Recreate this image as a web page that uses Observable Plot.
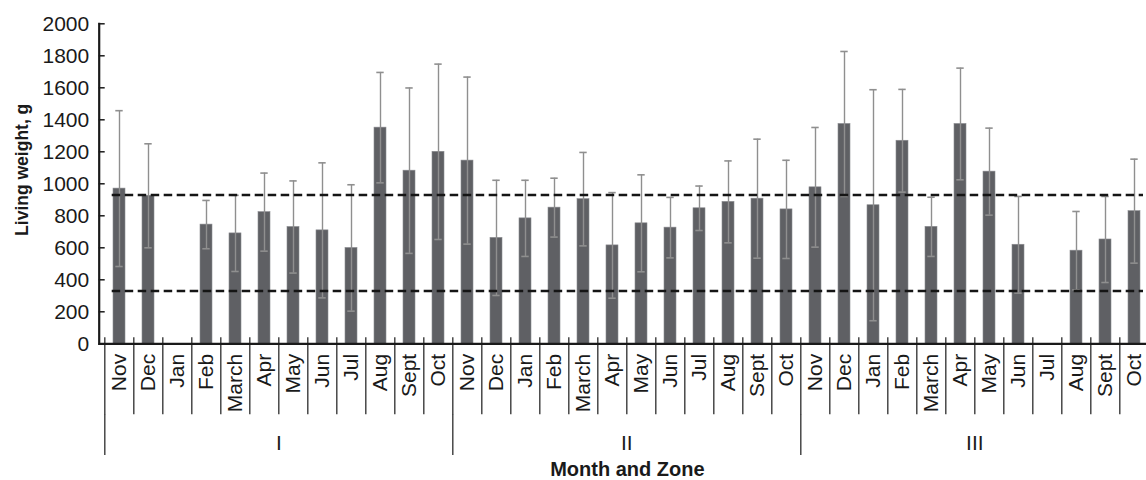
<!DOCTYPE html>
<html><head><meta charset="utf-8">
<script src="https://cdn.jsdelivr.net/npm/d3@7"></script>
<script src="https://cdn.jsdelivr.net/npm/@observablehq/plot@0.6"></script>
<style>
body{margin:0;background:#fff;}
#chart svg{display:block;}
</style></head><body><div id="chart"></div>
<script>
// ---- data ----
const zones = ["I", "II", "III"];
const months = ["Nov","Dec","Jan","Feb","March","Apr","May","Jun","Jul","Aug","Sept","Oct"];
const meanI   = [970, 925, null, 745, 690, 823, 730, 709, 599, 1351, 1082, 1200];
const sdI     = [487, 325, null, 151, 238, 244, 288, 422, 395, 345, 517, 548];
const meanII  = [1145, 662, 784, 851, 904, 615, 753, 726, 847, 887, 907, 840];
const sdII    = [522, 360, 238, 184, 292, 330, 303, 189, 139, 256, 372, 307];
const meanIII = [978, 1374, 866, 1269, 731, 1374, 1076, 619, null, 582, 652, 829];
const sdIII   = [374, 453, 722, 321, 185, 349, 272, 302, null, 245, 269, 325];
const refLines = [930, 330];
const yTicks = [0, 200, 400, 600, 800, 1000, 1200, 1400, 1600, 1800, 2000];
const yLabel = "Living weight, g";
const xLabel = "Month and Zone";

// ---- table ----
const means = [meanI, meanII, meanIII];
const sds = [sdI, sdII, sdIII];
const rows = [];
zones.forEach((z, zi) => months.forEach((m, mi) =>
  rows.push({zone: z, month: m, key: z + "-" + m, mean: means[zi][mi], sd: sds[zi][mi]})));
const keys = rows.map(d => d.key);
const monthOf = new Map(rows.map(d => [d.key, d.month]));
const zoneOf = new Map(rows.map(d => [d.key, d.zone]));
const withData = rows.filter(d => d.mean != null);

// ---- layout ----
const X0 = 98.7, X1 = 1155;
const step = (X1 - X0) / keys.length;
const font = "'Liberation Sans', Arial, Helvetica, sans-serif";
const ink = "#1a1a1a";
const errColor = "#8f8f8f";

const chart = Plot.plot({
  width: 1146, height: 480,
  marginTop: 23.3, marginBottom: 136.7, marginLeft: X0, marginRight: 1146 - X1,
  style: {fontFamily: font, fontSize: "20px", color: ink, background: "#fff", overflow: "hidden"},
  x: {domain: keys, range: [X0, X1], paddingInner: 0.57, paddingOuter: 0.285, align: 0.5, axis: null},
  y: {domain: [0, 2000], range: [343.3, 23.3], axis: null},
  marks: [
    Plot.barY(withData, {x: "key", y: "mean", fill: "#5f6064", stroke: "#8b8c90", strokeWidth: 0.6}),
    Plot.ruleX(withData, {x: "key", y1: d => d.mean - d.sd, y2: d => d.mean + d.sd, stroke: errColor, strokeWidth: 1.4}),
    Plot.tickY(withData, {x: "key", y: d => d.mean + d.sd, stroke: errColor, strokeWidth: 1.6, insetLeft: 2.3, insetRight: 2.3}),
    Plot.tickY(withData, {x: "key", y: d => d.mean - d.sd, stroke: errColor, strokeWidth: 1.6, insetLeft: 2.3, insetRight: 2.3}),
    Plot.ruleY(refLines, {stroke: "#151515", strokeWidth: 2.6, strokeDasharray: "8.5,4.5", insetLeft: 13, insetRight: 12}),
    // axes lines
    Plot.ruleY([0], {stroke: ink, strokeWidth: 2.2}),
    Plot.frame({anchor: "left", stroke: ink, strokeWidth: 2.2}),
    // y ticks (inward) + labels
    Plot.axisY(yTicks, {anchor: "left", tickSize: 6, dx: 6, tickFormat: () => "", label: null, stroke: ink, strokeWidth: 1.5}),
    Plot.axisY(yTicks, {anchor: "left", tickSize: 0, tickPadding: 10, tickFormat: d => String(d), label: null, fontSize: 21, fill: ink}),
    // month separators and labels
    Plot.axisX(keys, {anchor: "bottom", tickSize: 77, dy: -6, dx: -step / 2, tickFormat: () => "", label: null, stroke: ink, strokeWidth: 1.2}),
    Plot.axisX(keys, {anchor: "bottom", tickSize: 0, tickPadding: 10, tickRotate: -90, tickFormat: k => monthOf.get(k), label: null, fontSize: 21, fill: ink}),
    // zone separators and labels
    Plot.axisX(zones.map(z => z + "-Nov"), {anchor: "bottom", tickSize: 41, dy: 70.7, dx: -step / 2, tickFormat: () => "", label: null, stroke: ink, strokeWidth: 1.2}),
    Plot.text(zones.map(z => z + "-May"), {x: d => d, text: d => zoneOf.get(d), frameAnchor: "bottom", dy: 99.7, dx: -step / 2, lineAnchor: "middle", fontSize: 21, fill: ink}),
    // titles
    Plot.text([xLabel], {text: d => d, frameAnchor: "bottom", dy: 126, lineAnchor: "middle", fontWeight: "bold", fontSize: 20, fill: ink}),
    Plot.text([yLabel], {text: d => d, frameAnchor: "left", textAnchor: "middle", dx: -76.7, dy: -14, rotate: -90, lineAnchor: "middle", fontWeight: "bold", fontSize: 17.5, fill: ink})
  ]
});
document.getElementById("chart").append(chart);
</script>
</body></html>
